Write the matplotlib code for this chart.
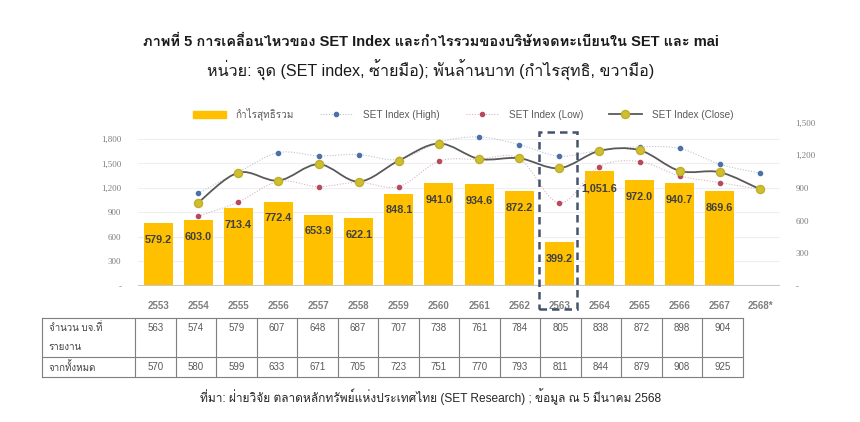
import matplotlib
matplotlib.use("Agg")
import matplotlib.pyplot as plt
from matplotlib.path import Path
from matplotlib.patches import PathPatch, Rectangle
from matplotlib.lines import Line2D
import numpy as np

years = ['2553', '2554', '2555', '2556', '2557', '2558', '2559', '2560',
         '2561', '2562', '2563', '2564', '2565', '2566', '2567', '2568*']
profit = [579.2, 603.0, 713.4, 772.4, 653.9, 622.1, 848.1, 941.0,
          934.6, 872.2, 399.2, 1051.6, 972.0, 940.7, 869.6]
# SET index lines start at 2554
set_high = [1135, 1392, 1632, 1592, 1608, 1548, 1758, 1824, 1730, 1588,
            1660, 1702, 1682, 1490, 1380]
set_low = [853, 1028, 1280, 1216, 1270, 1216, 1527, 1550, 1560, 1016,
           1461, 1522, 1347, 1265, 1184]
set_close = [1020, 1387, 1289, 1490, 1277, 1534, 1743, 1555, 1563, 1441,
             1653, 1661, 1408, 1392, 1184]
listed = [563, 574, 579, 607, 648, 687, 707, 738, 761, 784, 805, 838, 872, 898, 904]
total = [570, 580, 599, 633, 671, 705, 723, 751, 770, 793, 811, 844, 879, 908, 925]

# Latin in Liberation Sans, Thai falls back to Loma
plt.rcParams['font.family'] = ['Liberation Sans', 'Loma', 'DejaVu Sans']

fig = plt.figure(figsize=(8.6, 4.22), dpi=100)
ax = fig.add_axes([138/860, 1-286/422, 642/860, 163.5/422])
ax2 = ax.twinx()
ax.set_zorder(2)
ax2.set_zorder(1)
ax.patch.set_visible(False)

x = np.arange(len(years))
ax2.bar(x[:len(profit)], profit, width=0.72, color='#FFC000', zorder=2)
for i, v in enumerate(profit):
    ax2.annotate(f'{v:,.1f}', (i, v), xytext=(0, -12), textcoords='offset points',
                 ha='center', va='center', fontsize=7.8, fontweight='bold', color='#404040')
ax2.set_ylim(0, 1500)
ax2.set_yticks(range(0, 1501, 300))
ax2.set_yticklabels(['-'] + [f'{v:,}' for v in range(300, 1501, 300)])

ax.set_ylim(0, 2000)
ax.set_yticks(range(0, 1801, 300))
ax.set_yticklabels(['-'] + [f'{v:,}' for v in range(300, 1801, 300)])
ax.set_xlim(-0.5, len(years) - 0.5)
ax.set_xticks(x)
ax.set_xticklabels(years)
for a in (ax, ax2):
    for s in a.spines.values():
        s.set_visible(False)
    a.tick_params(length=0, labelsize=6.5, colors='#7f7f7f')
    for t in a.get_yticklabels():
        t.set_family(['Liberation Serif'])
ax.tick_params(axis='x', labelsize=7, pad=11)
for t in ax.get_xticklabels():
    t.set_fontweight('bold')
ax.tick_params(axis='y', pad=12)
ax2.tick_params(axis='y', pad=11)
for t in range(300, 1801, 300):
    ax2.axhline(t * 0.75, color='#efefef', lw=0.8, zorder=0)
ax.axhline(0, color='#c8c8c8', lw=1.5, zorder=3)


def smooth(a, xs, ys, **kw):
    pts = np.column_stack([xs, ys]).astype(float)
    verts = [pts[0]]
    codes = [Path.MOVETO]
    n = len(pts)
    for i in range(n - 1):
        p0 = pts[max(i - 1, 0)]
        p1 = pts[i]
        p2 = pts[i + 1]
        p3 = pts[min(i + 2, n - 1)]
        verts += [p1 + (p2 - p0) / 6, p2 - (p3 - p1) / 6, p2]
        codes += [Path.CURVE4] * 3
    a.add_patch(PathPatch(Path(verts, codes), fill=False, **kw))


lx = x[1:]
smooth(ax, lx, set_high, ec='#b9c4d2', lw=0.8, ls=(0, (1, 1.5)), zorder=3)
smooth(ax, lx, set_low, ec='#d4b8be', lw=0.8, ls=(0, (1, 1.5)), zorder=3)
smooth(ax, lx, set_close, ec='#595959', lw=1.3, zorder=4)
ax.plot(lx, set_high, 'o', ms=3, color='#4a72a8', zorder=5)
ax.plot(lx, set_low, 'o', ms=3, color='#b84a5e', zorder=5)
ax.plot(lx, set_close, 'o', ms=5.8, mfc='#cfbf2e', mec='#bfae28', zorder=6)

# dashed box around 2563
ax.add_patch(Rectangle((9.494, -281), 0.955, 2168, transform=ax.transData, fill=False,
                       ec='#44546a', lw=1.8, ls=(0, (3, 2)), clip_on=False, zorder=7))

handles = [Rectangle((0, 0), 1, 1, color='#FFC000'),
           Line2D([], [], color='#b9c4d2', lw=0.8, ls=(0, (1, 1.5)), marker='o', ms=3,
                  mfc='#4a72a8', mec='#4a72a8'),
           Line2D([], [], color='#d4b8be', lw=0.8, ls=(0, (1, 1.5)), marker='o', ms=3,
                  mfc='#b84a5e', mec='#b84a5e'),
           Line2D([], [], color='#595959', lw=1.3, marker='o', ms=5.8, mfc='#cfbf2e', mec='#bfae28')]
labels = ['กำไรสุทธิรวม', 'SET Index (High)', 'SET Index (Low)', 'SET Index (Close)']
fig.legend(handles, labels, loc='center', bbox_to_anchor=(463/860, 1-114/422), ncol=4,
           frameon=False, fontsize=7.2, handlelength=3.3, handletextpad=1.0,
           columnspacing=2.6, labelcolor='#595959')

fig.text(431/860, 1-42/422, 'ภาพที่ 5 การเคลื่อนไหวของ SET Index และกำไรรวมของบริษัทจดทะเบียนใน SET และ mai',
         ha='center', va='center', fontsize=10.5, fontweight='bold', color='#1a1a1a')
fig.text(431/860, 1-70/422, 'หน่วย: จุด (SET index, ซ้ายมือ); พันล้านบาท (กำไรสุทธิ, ขวามือ)',
         ha='center', va='center', fontsize=11.6, color='#1a1a1a')
fig.text(431/860, 1-397/422, 'ที่มา: ฝ่ายวิจัย ตลาดหลักทรัพย์แห่งประเทศไทย (SET Research) ; ข้อมูล ณ 5 มีนาคม 2568',
         ha='center', va='center', fontsize=8.6, color='#262626')

# table under the chart
tx0, tx1, colw = 41.7, 135.0, 40.5
ty0, ty1, ty2 = 318.3, 356.7, 376.7
W, H = 860, 422
tab = fig.add_axes([0, 0, 1, 1])
tab.set_xlim(0, W)
tab.set_ylim(H, 0)
tab.axis('off')
xend = tx1 + colw * len(listed)
for yy in (ty0, ty1, ty2):
    tab.plot([tx0, xend], [yy, yy], color='#7f7f7f', lw=0.8)
for xx in [tx0, tx1] + [tx1 + colw * (k + 1) for k in range(len(listed))]:
    tab.plot([xx, xx], [ty0, ty2], color='#7f7f7f', lw=0.8)
tab.text(tx0 + 7, 328, 'จำนวน บจ.ที่', fontsize=7, va='center', color='#404040')
tab.text(tx0 + 7, 347, 'รายงาน', fontsize=7, va='center', color='#404040')
tab.text(tx0 + 7, 367, 'จากทั้งหมด', fontsize=7, va='center', color='#404040')
for k in range(len(listed)):
    cx = tx1 + colw * (k + 0.5)
    tab.text(cx, 328, str(listed[k]), fontsize=7, ha='center', va='center', color='#595959')
    tab.text(cx, 367, str(total[k]), fontsize=7, ha='center', va='center', color='#595959')

fig.savefig('out.png', dpi=100)
